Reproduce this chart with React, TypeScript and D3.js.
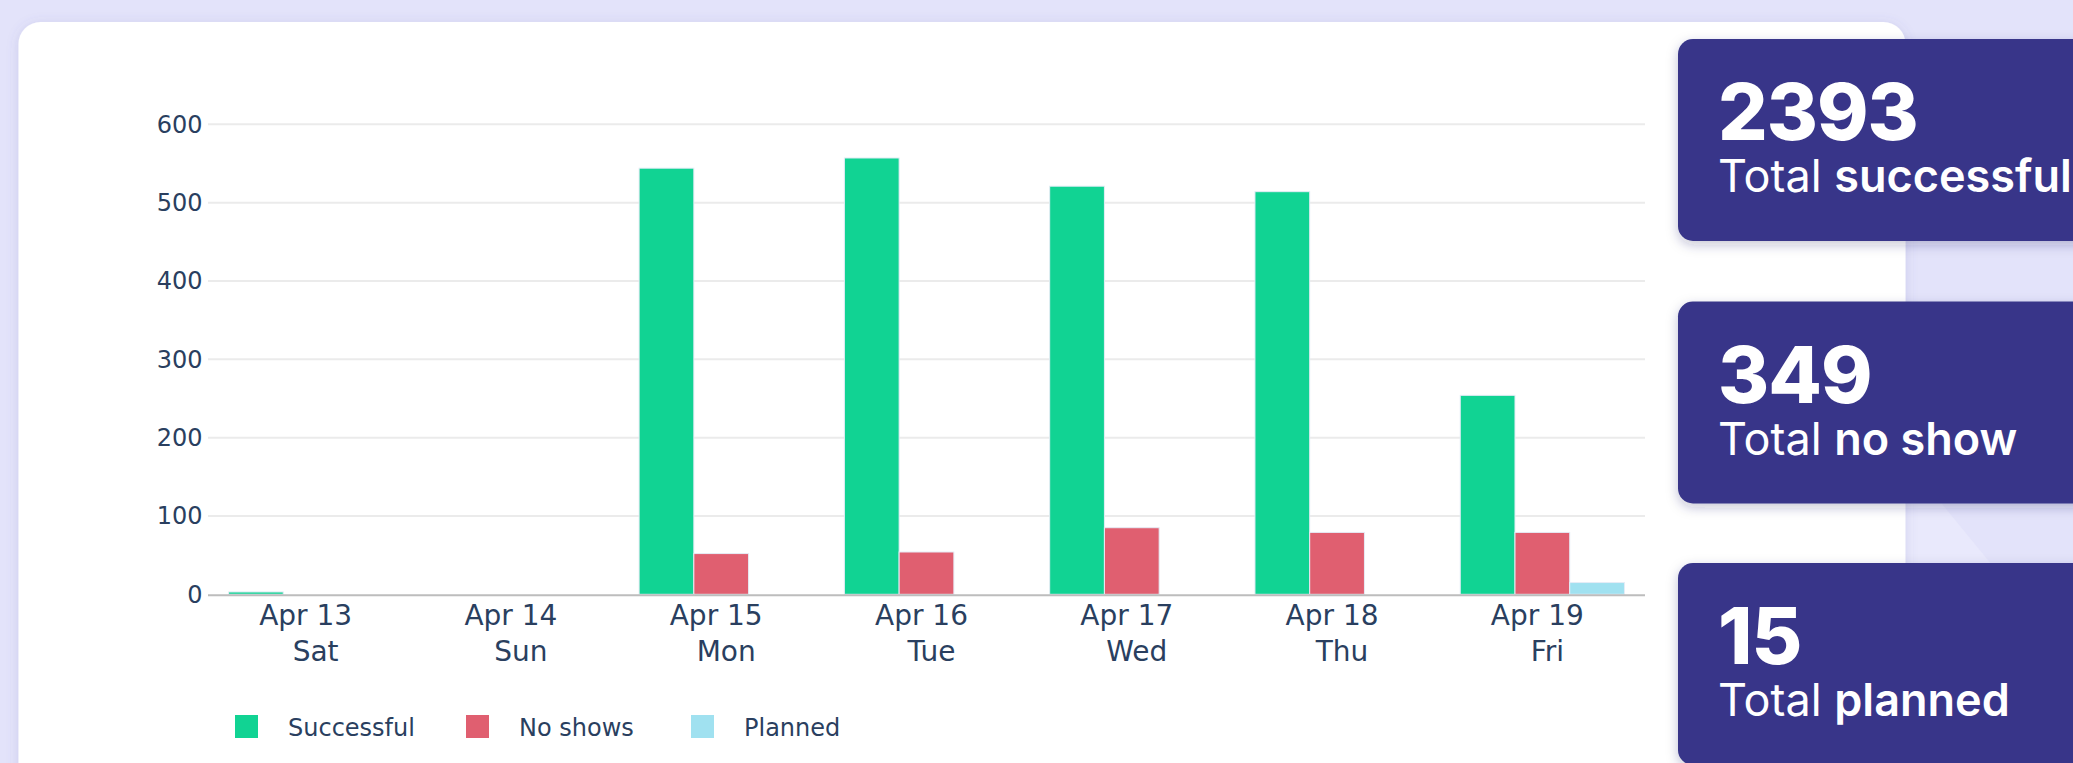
import React from 'react';
import * as d3 from 'd3';

// daily appointments
const days = ['Apr 13', 'Apr 14', 'Apr 15', 'Apr 16', 'Apr 17', 'Apr 18', 'Apr 19'];
const weekdays = ['Sat', 'Sun', 'Mon', 'Tue', 'Wed', 'Thu', 'Fri'];
const successful = [3, 0, 544, 557, 521, 514, 254];
const noShows = [0, 0, 52, 54, 85, 79, 79];
const planned = [0, 0, 0, 0, 0, 0, 15];

const seriesNames = ['Successful', 'No shows', 'Planned'];
const seriesColors = ['#11d393', '#e05f70', '#a0e1f0'];
const yTicks = [0, 100, 200, 300, 400, 500, 600];

const totalLabels = ['successful', 'no show', 'planned'];

const W = 2073;
const H = 763;
const tickFont = 'DejaVu Sans, Verdana, sans-serif';
const cardFont = 'Inter, "Open Sans", sans-serif';

function App() {
  const series = [successful, noShows, planned];
  const totals = series.map(s => d3.sum(s));

  const x = d3.scaleBand<string>()
    .domain(days)
    .range([208, 1645])
    .paddingInner(0.2)
    .paddingOuter(0.1);

  const xSub = d3.scaleBand<string>()
    .domain(seriesNames)
    .range([0, x.bandwidth()]);

  const y = d3.scaleLinear()
    .domain([0, 600])
    .range([594.3, 124.3]);

  const legendX = [235, 466, 691];
  const boxTops = [39, 301.5, 563];

  return (
    <svg width={W} height={H} style={{ position: 'absolute', left: 0, top: 0, display: 'block' }}>
      <defs>
        <filter id="cardShadow" x="-5%" y="-10%" width="110%" height="120%">
          <feDropShadow dx="0" dy="2" stdDeviation="6" floodColor="#5a5aa8" floodOpacity="0.18" />
        </filter>
        <filter id="boxShadow" x="-10%" y="-20%" width="120%" height="150%">
          <feDropShadow dx="0" dy="4" stdDeviation="6" floodColor="#22225a" floodOpacity="0.25" />
        </filter>
      </defs>

      {/* page background */}
      <rect x={0} y={0} width={W} height={H} fill="#e3e3fa" />
      <polygon points="1906,460 1992,565 1906,565" fill="#e9e9fc" />

      {/* white chart card */}
      <rect x={18.5} y={22} width={1887} height={800} rx={22} fill="#ffffff" filter="url(#cardShadow)" />

      {/* gridlines + y ticks */}
      {yTicks.map(t => (
        <g key={t}>
          {t > 0 && (
            <line x1={208} x2={1645} y1={y(t)} y2={y(t)} stroke="#ebebeb" strokeWidth={2} />
          )}
          <text x={202.5} y={y(t) + 8.5} textAnchor="end" fontFamily={tickFont} fontSize={24} fill="#2a3f5f">
            {t}
          </text>
        </g>
      ))}

      {/* bars */}
      {days.map((d, i) => (
        <g key={d} transform={`translate(${x(d)},0)`}>
          {series.map((s, j) => (
            <rect
              key={seriesNames[j]}
              x={xSub(seriesNames[j])}
              y={y(s[i])}
              width={xSub.bandwidth()}
              height={y(0) - y(s[i])}
              fill={seriesColors[j]}
              stroke="#e5ecf6"
              strokeWidth={1}
            />
          ))}
        </g>
      ))}

      {/* x axis line */}
      <line x1={208} x2={1645} y1={y(0) + 1} y2={y(0) + 1} stroke="#bdbdbd" strokeWidth={2} />

      {/* x tick labels */}
      {days.map((d, i) => {
        const cx = (x(d) as number) + x.bandwidth() / 2;
        return (
          <g key={d} fontFamily={tickFont} fontSize={28} fill="#2a3f5f" textAnchor="middle">
            <text x={cx - 5} y={625}>{d}</text>
            <text x={cx + 5} y={661}>{weekdays[i]}</text>
          </g>
        );
      })}

      {/* legend */}
      {seriesNames.map((name, j) => (
        <g key={name} transform={`translate(${legendX[j]},715)`}>
          <rect x={0} y={0} width={23} height={23} fill={seriesColors[j]} />
          <text x={53} y={20.5} fontFamily={tickFont} fontSize={24} fill="#2a3f5f">{name}</text>
        </g>
      ))}

      {/* totals cards */}
      {totals.map((v, k) => (
        <g key={totalLabels[k]} transform={`translate(1678,${boxTops[k]})`}>
          <rect x={0} y={0} width={460} height={202} rx={15} fill="#373689" filter="url(#boxShadow)" />
          <text x={40} y={101} fontFamily={cardFont} fontWeight={800} fontSize={78} fill="#ffffff" letterSpacing={-1}>
            {v}
          </text>
          <text x={40} y={153} fontFamily={cardFont} fontSize={45} fill="#ffffff">
            <tspan fontWeight={400}>Total </tspan>
            <tspan fontWeight={600}>{totalLabels[k]}</tspan>
          </text>
        </g>
      ))}
    </svg>
  );
}

export default App;
